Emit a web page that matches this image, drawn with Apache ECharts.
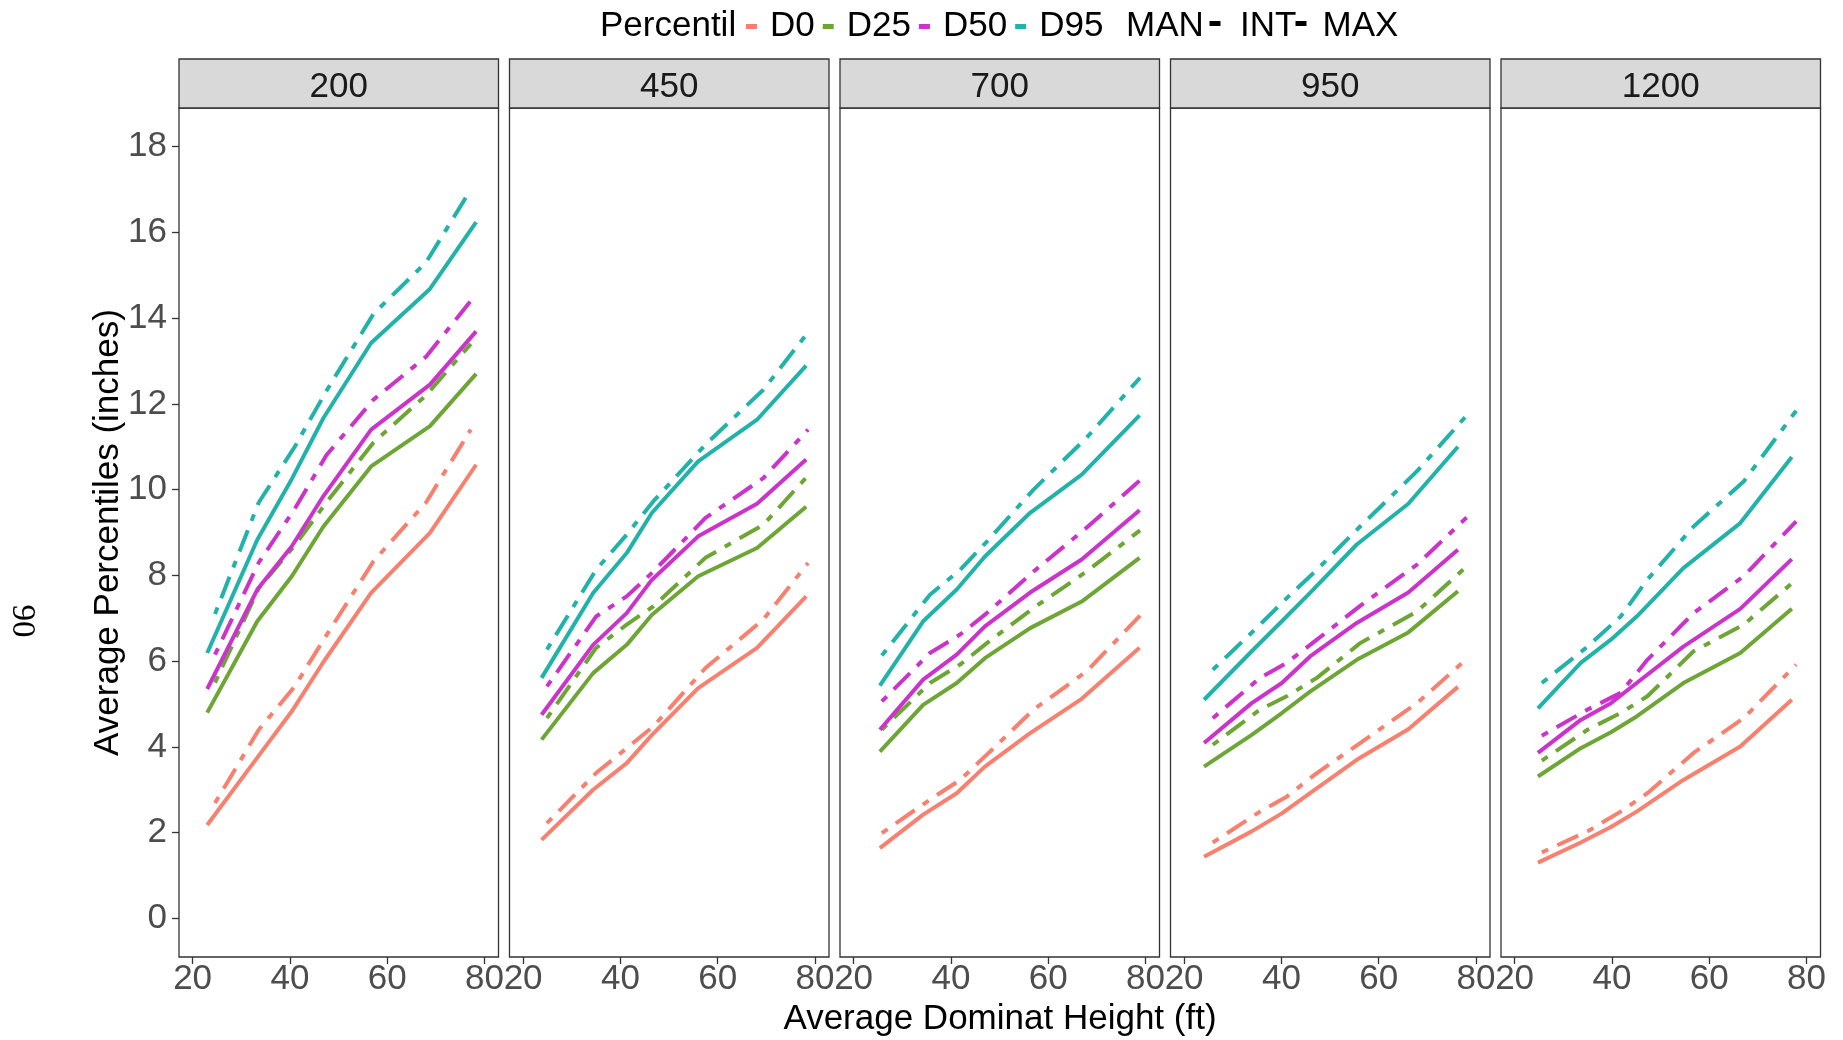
<!DOCTYPE html>
<html>
<head>
<meta charset="utf-8">
<script src="https://cdn.jsdelivr.net/npm/echarts@6/dist/echarts.min.js"></script>
<style>
html,body{margin:0;padding:0;background:#fff;}
#main{width:1843px;height:1040px;}
</style>
</head>
<body>
<div id="main"></div>
<script>
// ---------- data ----------
const panels = ['200', '450', '700', '950', '1200'];
const percentiles = ['D0', 'D25', 'D50', 'D95'];
const lineTypes = ['MAN', 'MAX'];
const xTicks = [20, 40, 60, 80];
const yTicks = [0, 2, 4, 6, 8, 10, 12, 14, 16, 18];

// x positions (Average Dominat Height) per panel and line type
const x200_MAN = [23.0, 33.3, 40.4, 46.9, 56.7, 68.8, 78.3];
const x200_MAX = [24.6, 33.6, 41.0, 47.5, 57.2, 68.0, 77.2];
const x450_MAN = [23.8, 34.4, 41.3, 46.5, 56.0, 68.1, 78.2];
const x450_MAX = [24.9, 35.0, 41.3, 46.8, 57.5, 69.4, 78.6];
const x700_MAN = [25.4, 34.3, 41.2, 47.0, 56.3, 66.9, 78.8];
const x700_MAX = [25.8, 35.7, 41.9, 47.4, 57.0, 67.9, 78.9];
const x950_MAN = [24.1, 33.9, 40.1, 45.9, 55.5, 66.1, 76.3];
const x950_MAX = [25.9, 35.6, 41.1, 47.3, 56.2, 67.9, 78.1];
const x1200_MAN = [24.8, 33.6, 39.8, 45.1, 54.7, 66.4, 77.0];
const x1200_MAX = [25.6, 35.0, 41.8, 47.3, 56.8, 67.1, 77.9];

// percentile values (inches)
const D0_200_MAN  = [2.18, 3.75, 4.83, 5.98, 7.59, 8.99, 10.58];
const D0_200_MAX  = [2.69, 4.40, 5.41, 6.60, 8.33, 9.70, 11.40];
const D25_200_MAN = [4.80, 6.93, 7.98, 9.14, 10.54, 11.48, 12.70];
const D25_200_MAX = [5.50, 7.70, 8.70, 9.70, 11.10, 12.20, 13.40];
const D50_200_MAN = [5.35, 7.67, 8.68, 9.85, 11.40, 12.45, 13.69];
const D50_200_MAX = [6.15, 8.30, 9.55, 10.80, 12.10, 13.10, 14.40];
const D95_200_MAN = [6.19, 8.83, 10.25, 11.67, 13.42, 14.68, 16.24];
const D95_200_MAX = [7.10, 9.70, 11.00, 12.30, 14.10, 15.30, 17.00];

const D0_450_MAN  = [1.83, 3.00, 3.62, 4.28, 5.37, 6.31, 7.51];
const D0_450_MAX  = [2.22, 3.39, 3.97, 4.48, 5.84, 6.97, 8.29];
const D25_450_MAN = [4.17, 5.72, 6.38, 7.08, 7.98, 8.64, 9.60];
const D25_450_MAX = [4.67, 6.31, 6.85, 7.28, 8.41, 9.18, 10.33];
const D50_450_MAN = [4.75, 6.38, 7.12, 7.90, 8.91, 9.67, 10.70];
const D50_450_MAX = [5.41, 7.04, 7.51, 8.09, 9.34, 10.27, 11.40];
const D95_450_MAN = [5.61, 7.59, 8.52, 9.46, 10.66, 11.63, 12.89];
const D95_450_MAX = [6.27, 8.13, 8.95, 9.73, 11.05, 12.33, 13.67];

const D0_700_MAN  = [1.64, 2.42, 2.92, 3.54, 4.32, 5.12, 6.31];
const D0_700_MAX  = [1.99, 2.77, 3.23, 3.82, 4.87, 5.76, 7.06];
const D25_700_MAN = [3.89, 4.98, 5.49, 6.07, 6.77, 7.39, 8.41];
const D25_700_MAX = [4.40, 5.49, 5.92, 6.42, 7.24, 8.09, 9.05];
const D50_700_MAN = [4.40, 5.57, 6.15, 6.81, 7.60, 8.37, 9.52];
const D50_700_MAX = [5.06, 6.19, 6.62, 7.12, 8.09, 9.11, 10.22];
const D95_700_MAN = [5.43, 6.93, 7.67, 8.44, 9.46, 10.35, 11.73];
const D95_700_MAX = [6.13, 7.55, 8.13, 8.79, 10.00, 11.21, 12.61];

const D0_950_MAN  = [1.44, 2.03, 2.45, 2.92, 3.70, 4.41, 5.40];
const D0_950_MAX  = [1.77, 2.49, 2.84, 3.39, 4.09, 5.02, 6.05];
const D25_950_MAN = [3.54, 4.28, 4.79, 5.29, 6.03, 6.67, 7.63];
const D25_950_MAX = [4.05, 4.87, 5.18, 5.61, 6.42, 7.16, 8.21];
const D50_950_MAN = [4.09, 5.02, 5.49, 6.11, 6.89, 7.60, 8.60];
const D50_950_MAX = [4.67, 5.61, 5.96, 6.50, 7.29, 8.25, 9.35];
const D95_950_MAN = [5.10, 6.23, 6.93, 7.59, 8.72, 9.67, 11.00];
const D95_950_MAX = [5.80, 6.85, 7.47, 8.13, 9.14, 10.43, 11.73];

const D0_1200_MAN  = [1.30, 1.77, 2.13, 2.49, 3.23, 4.01, 5.10];
const D0_1200_MAX  = [1.54, 2.03, 2.49, 2.92, 3.86, 4.67, 5.92];
const D25_1200_MAN = [3.31, 3.97, 4.34, 4.71, 5.49, 6.19, 7.22];
const D25_1200_MAX = [3.68, 4.40, 4.79, 5.18, 6.23, 6.85, 7.90];
const D50_1200_MAN = [3.86, 4.63, 5.02, 5.49, 6.34, 7.22, 8.38];
const D50_1200_MAX = [4.26, 4.87, 5.26, 6.03, 7.12, 7.98, 9.26];
const D95_1200_MAN = [4.90, 5.96, 6.50, 7.04, 8.17, 9.22, 10.76];
const D95_1200_MAX = [5.49, 6.34, 7.04, 7.90, 9.14, 10.19, 11.84];

// ---------- lookup built from the arrays ----------
const X = {x200_MAN, x200_MAX, x450_MAN, x450_MAX, x700_MAN, x700_MAX, x950_MAN, x950_MAX, x1200_MAN, x1200_MAX};
const Y = {
  D0_200_MAN, D0_200_MAX, D25_200_MAN, D25_200_MAX, D50_200_MAN, D50_200_MAX, D95_200_MAN, D95_200_MAX,
  D0_450_MAN, D0_450_MAX, D25_450_MAN, D25_450_MAX, D50_450_MAN, D50_450_MAX, D95_450_MAN, D95_450_MAX,
  D0_700_MAN, D0_700_MAX, D25_700_MAN, D25_700_MAX, D50_700_MAN, D50_700_MAX, D95_700_MAN, D95_700_MAX,
  D0_950_MAN, D0_950_MAX, D25_950_MAN, D25_950_MAX, D50_950_MAN, D50_950_MAX, D95_950_MAN, D95_950_MAX,
  D0_1200_MAN, D0_1200_MAX, D25_1200_MAN, D25_1200_MAX, D50_1200_MAN, D50_1200_MAX, D95_1200_MAN, D95_1200_MAX
};

// ---------- styling ----------
const colors = {D0: '#F8806F', D25: '#6EA636', D50: '#CB33CB', D95: '#21B2AA'};
const dashes = {MAN: 'solid', MAX: [7, 10, 23, 10]};
const FONT = '"Liberation Sans", Arial, sans-serif';
const panelLeft0 = 179, panelStep = 330.5, panelW = 319.5;
const panelTop = 108, panelH = 849, stripTop = 59;

const grids = [], xAxes = [], yAxes = [], series = [], graphics = [];

panels.forEach((p, i) => {
  const left = panelLeft0 + i * panelStep;
  grids.push({left: left, top: panelTop, width: panelW, height: panelH,
    show: true, borderColor: '#333333', borderWidth: 1.3, backgroundColor: '#ffffff', containLabel: false});
  xAxes.push({
    type: 'value', gridIndex: i, min: 17.2, max: 82.9,
    axisLine: {show: false, onZero: false},
    splitLine: {show: false},
    axisTick: {show: true, length: 7, lineStyle: {color: '#333333', width: 1.3}, customValues: xTicks},
    axisLabel: {show: true, customValues: xTicks, margin: 5, fontSize: 35, color: '#4D4D4D', fontFamily: FONT}
  });
  yAxes.push({
    type: 'value', gridIndex: i, min: -0.9, max: 18.9,
    axisLine: {show: false, onZero: false},
    splitLine: {show: false},
    axisTick: {show: i === 0, length: 7, lineStyle: {color: '#333333', width: 1.3}, customValues: yTicks},
    axisLabel: {show: i === 0, customValues: yTicks, margin: 12, fontSize: 35, color: '#4D4D4D', fontFamily: FONT}
  });
  // strip
  graphics.push({type: 'rect', shape: {x: left, y: stripTop, width: panelW, height: panelTop - stripTop},
    style: {fill: '#D9D9D9', stroke: '#333333', lineWidth: 1.3}, z: 10});
  graphics.push({type: 'text', x: left + panelW / 2, y: (stripTop + panelTop) / 2 + 3.5,
    style: {text: p, font: '35px ' + FONT, fill: '#1A1A1A', textAlign: 'center', textVerticalAlign: 'middle'}, z: 11});

  percentiles.forEach(pc => {
    lineTypes.forEach(lt => {
      const xs = X['x' + p + '_' + lt];
      const ys = Y[pc + '_' + p + '_' + lt];
      series.push({
        type: 'line', name: pc, xAxisIndex: i, yAxisIndex: i,
        data: xs.map((x, k) => [x, ys[k]]),
        showSymbol: false, symbol: 'none', smooth: false, silent: true,
        lineStyle: {color: colors[pc], width: 4, type: dashes[lt], cap: 'butt', join: 'round'},
        itemStyle: {color: colors[pc]},
        clip: true
      });
    });
  });
});

// legend labels and titles as text
const legendY = 26.5;
graphics.push({type: 'text', x: 600, y: legendY,
  style: {text: 'Percentil', font: '35px ' + FONT, fill: '#000', textAlign: 'left', textVerticalAlign: 'middle'}});
const ltText = [['MAN', 1126], ['INT', 1240], ['MAX', 1322.5]];
ltText.forEach(t => graphics.push({type: 'text', x: t[1], y: legendY,
  style: {text: t[0], font: '35px ' + FONT, fill: '#000', textAlign: 'left', textVerticalAlign: 'middle'}}));
[1215, 1301].forEach(cx => graphics.push({type: 'rect', shape: {x: cx - 5.5, y: 21, width: 11, height: 5},
  style: {fill: '#000'}}));
graphics.push({type: 'text', x: 1000, y: 1019,
  style: {text: 'Average Dominat Height (ft)', font: '35px ' + FONT, fill: '#000', textAlign: 'center', textVerticalAlign: 'middle'}});
graphics.push({type: 'text', x: 108, y: 532.5, rotation: Math.PI / 2,
  style: {text: 'Average Percentiles (inches)', font: '35px ' + FONT, fill: '#000', textAlign: 'center', textVerticalAlign: 'middle'}});
graphics.push({type: 'text', x: 22, y: 621, rotation: -Math.PI / 2,
  style: {text: '90', font: '33px "Liberation Serif", "Times New Roman", serif', fill: '#000', textAlign: 'center', textVerticalAlign: 'middle'}});

const chart = echarts.init(document.getElementById('main'), null, {renderer: 'canvas'});
chart.setOption({
  animation: false,
  backgroundColor: '#ffffff',
  grid: grids,
  xAxis: xAxes,
  yAxis: yAxes,
  legend: {
    data: percentiles, left: 746, top: 9, padding: 0,
    icon: 'rect', itemWidth: 11, itemHeight: 5, itemGap: 8,
    selectedMode: false,
    textStyle: {fontSize: 35, color: '#000', fontFamily: FONT, padding: [0, 0, 0, 8]}
  },
  graphic: graphics,
  series: series
});
</script>
</body>
</html>
